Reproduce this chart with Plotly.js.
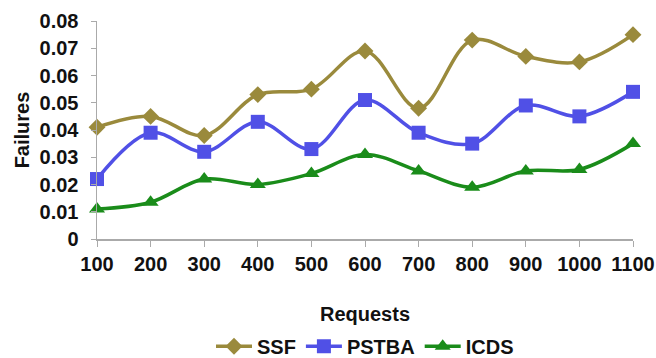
<!DOCTYPE html>
<html><head><meta charset="utf-8">
<script src="https://cdn.plot.ly/plotly-3.0.1.min.js"></script>
<style>html,body{margin:0;padding:0;background:#fff;}#chart{width:656px;height:358px;}</style>
</head><body><div id="chart"></div>
<script>
const requests = ['100','200','300','400','500','600','700','800','900','1000','1100'];
const ssf   = [0.041,0.045,0.038,0.053,0.055,0.069,0.048,0.073,0.067,0.065,0.075];
const pstba = [0.022,0.039,0.032,0.043,0.033,0.051,0.039,0.035,0.049,0.045,0.054];
const icds  = [0.011,0.0135,0.022,0.020,0.024,0.031,0.025,0.019,0.025,0.0255,0.035];
const yTicks = [0,0.01,0.02,0.03,0.04,0.05,0.06,0.07,0.08];
const yTickText = ['0','0.01','0.02','0.03','0.04','0.05','0.06','0.07','0.08'];

const F = {family:'Liberation Sans, Arial, sans-serif', size:20, color:'#111', weight:700};
function tr(name, y, color, symbol, size){
  return {x:requests, y:y, name:name, type:'scatter', mode:'lines+markers',
    line:{color:color, width:3.5, shape:'spline', smoothing:1},
    marker:{color:color, symbol:symbol, size:size}, cliponaxis:false};
}
const data = [
  tr('SSF', ssf, '#9a8a3c', 'diamond', 13),
  tr('PSTBA', pstba, '#5050e6', 'square', 14),
  tr('ICDS', icds, '#1a8c1a', 'triangle-up', 14)
];
const layout = {
  width:656, height:358,
  margin:{l:97, r:23, t:21, b:119},
  paper_bgcolor:'#fff', plot_bgcolor:'#fff',
  font:F,
  showlegend:true,
  legend:{orientation:'h', x:0.5, xanchor:'center', yref:'container', y:0.033, yanchor:'middle',
    font:F, itemwidth:36, tracegroupgap:0},
  xaxis:{type:'category', range:[0,10], showgrid:false, zeroline:false,
    showline:true, linecolor:'#aaa', linewidth:1.5, ticks:'outside', ticklen:6, tickcolor:'#aaa',
    tickfont:F, title:{text:'Requests', font:F, standoff:33}},
  yaxis:{range:[0,0.08], tickvals:yTicks, ticktext:yTickText, showgrid:false, zeroline:false,
    showline:true, linecolor:'#aaa', linewidth:1.5, ticks:'outside', ticklen:5, tickcolor:'#aaa',
    ticklabelstandoff:8,
    tickfont:F, title:{text:'Failures', font:F, standoff:4}}
};
Plotly.newPlot('chart', data, layout, {displayModeBar:false, staticPlot:true});
</script></body></html>
